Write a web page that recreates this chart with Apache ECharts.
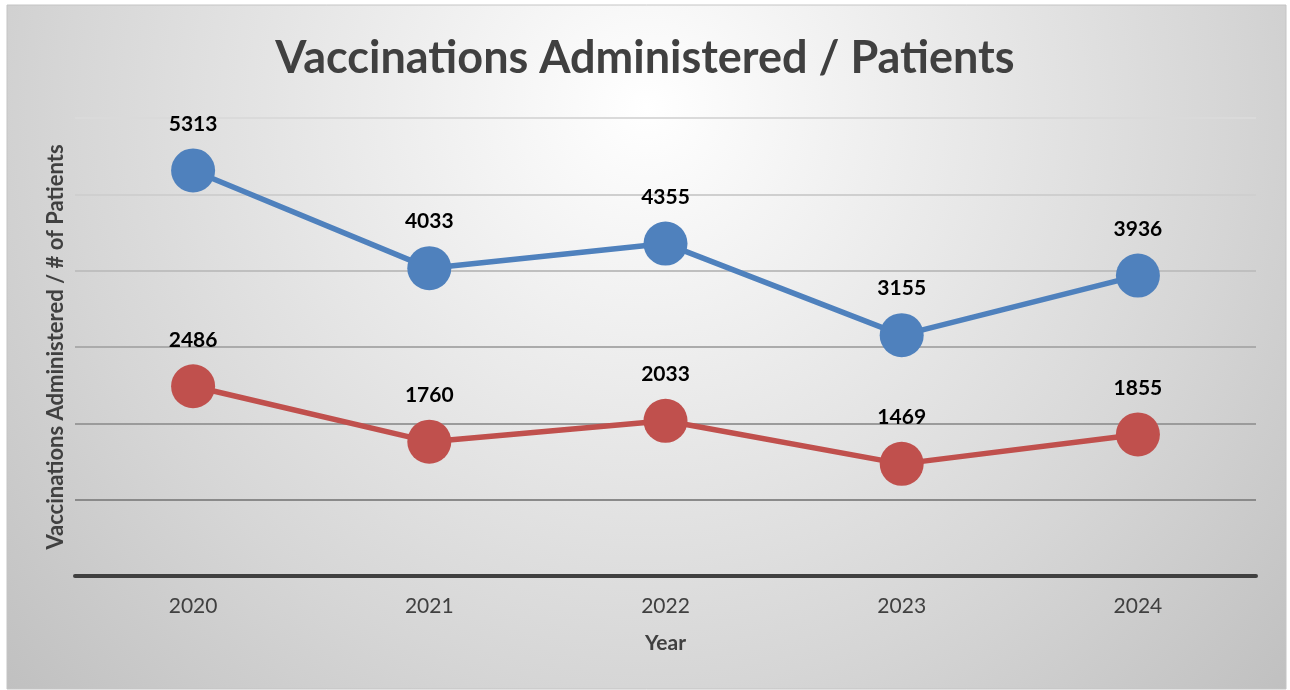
<!DOCTYPE html>
<html>
<head>
<meta charset="utf-8">
<title>Vaccinations Administered / Patients</title>
<script src="https://cdn.jsdelivr.net/npm/echarts@6/dist/echarts.min.js"></script>
<style>
  html, body { margin: 0; padding: 0; background: #fff; }
  #chart { width: 1290px; height: 690px; }
</style>
</head>
<body>
<div id="chart"></div>
<script>
const years = ['2020', '2021', '2022', '2023', '2024']
const vaccinations = [5313, 4033, 4355, 3155, 3936]
const patients = [2486, 1760, 2033, 1469, 1855]

// gridlines get darker towards the bottom, one colour per tick (0 .. 6000)
const gridColors = ['#808080', '#8a8a8a', '#9b9b9b', '#ababab', '#bfbfbf', '#cfcfcf', '#dadada']

const FONT = 'Lato, "Open Sans", sans-serif'

const chart = echarts.init(document.getElementById('chart'), null, { renderer: 'canvas' })

function lineSeries (name, data, color) {
  return {
    name: name,
    type: 'line',
    data: data,
    symbol: 'circle',
    symbolSize: 44,
    smooth: false,
    z: 3,
    lineStyle: { color: color, width: 5.5 },
    itemStyle: { color: color },
    label: {
      show: true,
      position: 'top',
      distance: 14,
      color: '#000',
      fontFamily: FONT,
      fontWeight: 'bold',
      fontSize: 21
    },
    emphasis: { disabled: true }
  }
}

chart.setOption({
  animation: false,
  backgroundColor: '#fff',
  graphic: [{
    type: 'rect',
    z: -10,
    silent: true,
    shape: { x: 7, y: 5, width: 1279, height: 684 },
    style: {
      fill: {
        type: 'radial',
        x: 0.5,
        y: 0.15,
        r: 1.3,
        colorStops: [
          { offset: 0, color: '#ffffff' },
          { offset: 0.35, color: '#e9e9e9' },
          { offset: 0.65, color: '#d6d6d6' },
          { offset: 1, color: '#bebebe' }
        ]
      },
      stroke: '#c4c4c4',
      lineWidth: 1
    }
  }],
  title: {
    text: 'Vaccinations Administered / Patients',
    left: 'center',
    top: 31,
    textStyle: {
      color: '#404040',
      fontFamily: FONT,
      fontWeight: 'bold',
      fontSize: 45
    }
  },
  grid: {
    left: 75,
    right: 34,
    top: 118,
    bottom: 114,
    containLabel: false
  },
  xAxis: {
    type: 'category',
    data: years,
    boundaryGap: true,
    name: 'Year',
    nameLocation: 'middle',
    nameGap: 57,
    nameTextStyle: {
      color: '#404040',
      fontFamily: FONT,
      fontWeight: 'bold',
      fontSize: 21
    },
    axisLine: { show: true, lineStyle: { color: '#404040', width: 4 } },
    axisTick: { show: false },
    axisLabel: {
      margin: 20,
      color: '#404040',
      fontFamily: FONT,
      fontSize: 21
    },
    splitLine: { show: false },
    z: 5
  },
  yAxis: {
    type: 'value',
    min: 0,
    max: 6000,
    interval: 1000,
    name: 'Vaccinations Administered / # of Patients',
    nameLocation: 'middle',
    nameGap: 8,
    nameTextStyle: {
      color: '#404040',
      fontFamily: FONT,
      fontWeight: 'bold',
      fontSize: 22
    },
    axisLine: { show: false },
    axisTick: { show: false },
    axisLabel: { show: false },
    splitLine: {
      show: true,
      lineStyle: { color: gridColors, width: 2 }
    }
  },
  series: [
    lineSeries('Vaccinations Administered', vaccinations, '#4f81bd'),
    lineSeries('# of Patients', patients, '#c0504d')
  ]
})
</script>
</body>
</html>
